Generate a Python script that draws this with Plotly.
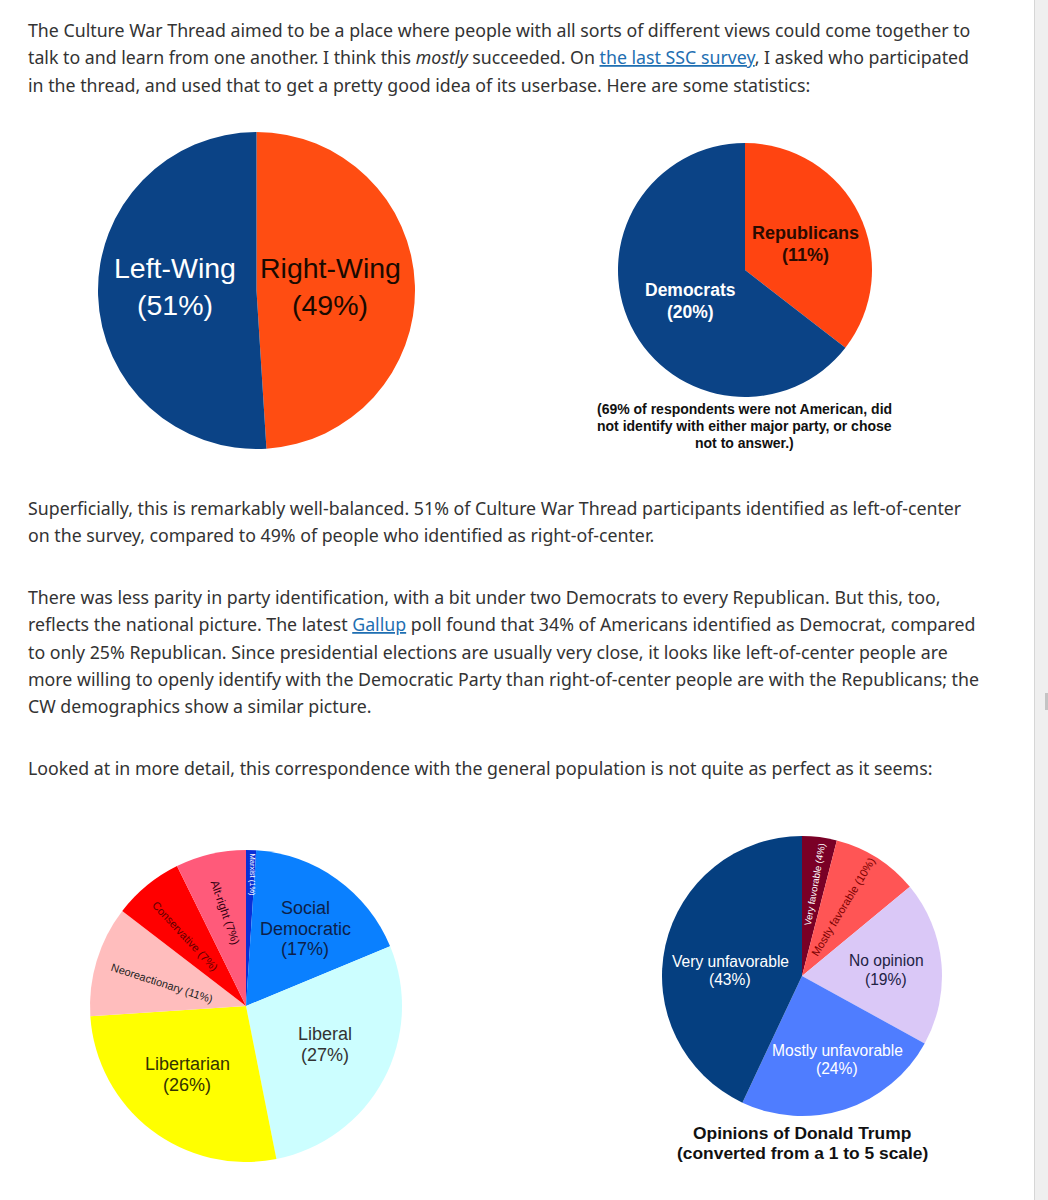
import plotly.graph_objects as go

W, H = 1048, 1200

# ---------------- data ----------------
spectrum_labels = ["Right-Wing", "Left-Wing"]
spectrum_values = [49, 51]
spectrum_colors = ["#ff4d12", "#0b4386"]

party_labels = ["Republicans", "Democrats"]
party_values = [11, 20]
party_colors = ["#ff4411", "#0b4386"]
party_note = ["(69% of respondents were not American, did",
              "not identify with either major party, or chose",
              "not to answer.)"]

ideology_labels = ["Marxist", "Social Democratic", "Liberal", "Libertarian",
                   "Neoreactionary", "Conservative", "Alt-right"]
ideology_values = [1, 17, 27, 26, 11, 7, 7]
ideology_colors = ["#0a2fd6", "#0a80ff", "#ccfeff", "#ffff00",
                   "#ffbdbd", "#ff0000", "#ff5a7a"]

trump_labels = ["Very favorable", "Mostly favorable", "No opinion",
                "Mostly unfavorable", "Very unfavorable"]
trump_values = [4, 10, 19, 24, 43]
trump_colors = ["#7a0026", "#ff5555", "#dac8f7", "#4f7dff", "#053f80"]
trump_title = ["Opinions of Donald Trump", "(converted from a 1 to 5 scale)"]

LINK = '<span style="color:#1f6fb2;text-decoration:underline">{}</span>'
paragraphs = [
    ["The Culture War Thread aimed to be a place where people with all sorts of different views could come together to",
     "talk to and learn from one another. I think this <i>mostly</i> succeeded. On " + LINK.format("the last SSC survey") + ", I asked who participated",
     "in the thread, and used that to get a pretty good idea of its userbase. Here are some statistics:"],
    ["Superficially, this is remarkably well-balanced. 51% of Culture War Thread participants identified as left-of-center",
     "on the survey, compared to 49% of people who identified as right-of-center."],
    ["There was less parity in party identification, with a bit under two Democrats to every Republican. But this, too,",
     "reflects the national picture. The latest " + LINK.format("Gallup") + " poll found that 34% of Americans identified as Democrat, compared",
     "to only 25% Republican. Since presidential elections are usually very close, it looks like left-of-center people are",
     "more willing to openly identify with the Democratic Party than right-of-center people are with the Republicans; the",
     "CW demographics show a similar picture."],
    ["Looked at in more detail, this correspondence with the general population is not quite as perfect as it seems:"],
]
paragraph_tops = [30, 508, 597, 768]
LINE_H = 27.3

wrap = {"Social Democratic": ["Social", "Democratic"]}

# ---------------- helpers ----------------
def fx(x):
    return x / W

def fy(y):
    return 1 - y / H

def domain(cx, cy, r):
    return dict(x=[fx(cx - r), fx(cx + r)], y=[fy(cy + r), fy(cy - r)])

annotations = []

def add_text(text, x, y, size, color, family="Liberation Sans", bold=False,
             angle=0, xanchor="center"):
    t = f"<b>{text}</b>" if bold else text
    annotations.append(dict(text=t, x=fx(x), y=fy(y), xref="paper", yref="paper",
                            xanchor=xanchor, yanchor="middle", showarrow=False,
                            textangle=angle, borderpad=0,
                            font=dict(family=family, size=size, color=color)))

def add_block(lines, x, y0, spacing, **kw):
    for i, ln in enumerate(lines):
        add_text(ln, x, y0 + i * spacing, **kw)

def two_line(name, value):
    return wrap.get(name, [name]) + [f"({value}%)"]

def one_line(name, value):
    return f"{name} ({value}%)"

fig = go.Figure()

def pie(labels, values, colors, cx, cy, r):
    fig.add_trace(go.Pie(labels=labels, values=values, sort=False,
                         direction="clockwise", rotation=0,
                         marker=dict(colors=colors, line=dict(width=0)),
                         textinfo="none", hoverinfo="label+percent",
                         showlegend=False, domain=domain(cx, cy, r)))

pie(spectrum_labels, spectrum_values, spectrum_colors, 256.5, 290.5, 158.5)
pie(party_labels, party_values, party_colors, 745, 270, 127)
pie(ideology_labels, ideology_values, ideology_colors, 246, 1006, 156)
pie(trump_labels, trump_values, trump_colors, 802, 976, 140)

# --- slice labels: political spectrum ---
sv = dict(zip(spectrum_labels, spectrum_values))
add_block(two_line("Left-Wing", sv["Left-Wing"]), 175, 268, 37, size=28.5, color="#ffffff")
add_block(two_line("Right-Wing", sv["Right-Wing"]), 330, 268, 37, size=28.5, color="#1a0a00")

# --- party ---
pv = dict(zip(party_labels, party_values))
add_block(two_line("Republicans", pv["Republicans"]), 805, 233, 22, size=18, color="#2b0b00", bold=True)
add_block(two_line("Democrats", pv["Democrats"]), 690, 290, 22, size=17.5, color="#ffffff", bold=True)
add_block(party_note, 744, 409, 17, size=14, color="#111111", bold=True)

# --- ideology ---
iv = dict(zip(ideology_labels, ideology_values))
add_block(two_line("Social Democratic", iv["Social Democratic"]), 305, 908, 20.5, size=18, color="#0d1f4a")
add_block(two_line("Liberal", iv["Liberal"]), 325, 1034, 20.5, size=18, color="#333333")
add_block(two_line("Libertarian", iv["Libertarian"]), 187, 1064, 21, size=18, color="#333300")
add_text(one_line("Neoreactionary", iv["Neoreactionary"]), 162, 983, 11, "#222222", angle=18)
add_text(one_line("Conservative", iv["Conservative"]), 185, 936, 11, "#600000", angle=47)
add_text(one_line("Alt-right", iv["Alt-right"]), 225, 912, 11.5, "#330010", angle=71)
add_text(one_line("Marxist", iv["Marxist"]), 252.5, 875, 7.5, "#ffffff", angle=90)

# --- trump ---
tv = dict(zip(trump_labels, trump_values))
add_block(two_line("Very unfavorable", tv["Very unfavorable"]), 730, 961, 18.5, size=15.6, color="#ffffff")
add_block(two_line("Mostly unfavorable", tv["Mostly unfavorable"]), 837, 1050, 18.5, size=15.6, color="#ffffff")
add_block(two_line("No opinion", tv["No opinion"]), 886, 960, 19, size=15.6, color="#222244")
add_text(one_line("Very favorable", tv["Very favorable"]), 814, 885, 9.5, "#ffffff", angle=-80)
add_text(one_line("Mostly favorable", tv["Mostly favorable"]), 843, 907, 11, "#7a0000", angle=-59)
add_block(trump_title, 802, 1133, 20, size=17.4, color="#111111", bold=True)

# --- body text ---
for lines, top in zip(paragraphs, paragraph_tops):
    for i, ln in enumerate(lines):
        add_text(ln, 27, top + i * LINE_H, 17.75, "#333333", family="Noto Sans",
                 xanchor="left")

# scrollbar
shapes = [
    dict(type="rect", xref="paper", yref="paper", x0=fx(1034), x1=1, y0=0, y1=1,
         fillcolor="#efefef", line=dict(width=0), layer="below"),
    dict(type="line", xref="paper", yref="paper", x0=fx(1034.5), x1=fx(1034.5), y0=0, y1=1,
         line=dict(color="#d6d6d6", width=1)),
    dict(type="rect", xref="paper", yref="paper", x0=fx(1045), x1=1, y0=fy(710), y1=fy(693),
         fillcolor="#c4c4c4", line=dict(width=0)),
]

fig.update_layout(width=W, height=H, margin=dict(l=0, r=0, t=0, b=0),
                  paper_bgcolor="#ffffff", plot_bgcolor="#ffffff",
                  annotations=annotations, shapes=shapes, showlegend=False)

fig.write_html("out.html", config={"displayModeBar": False},
               post_script="document.body.style.margin='0';document.body.style.overflow='hidden';")
